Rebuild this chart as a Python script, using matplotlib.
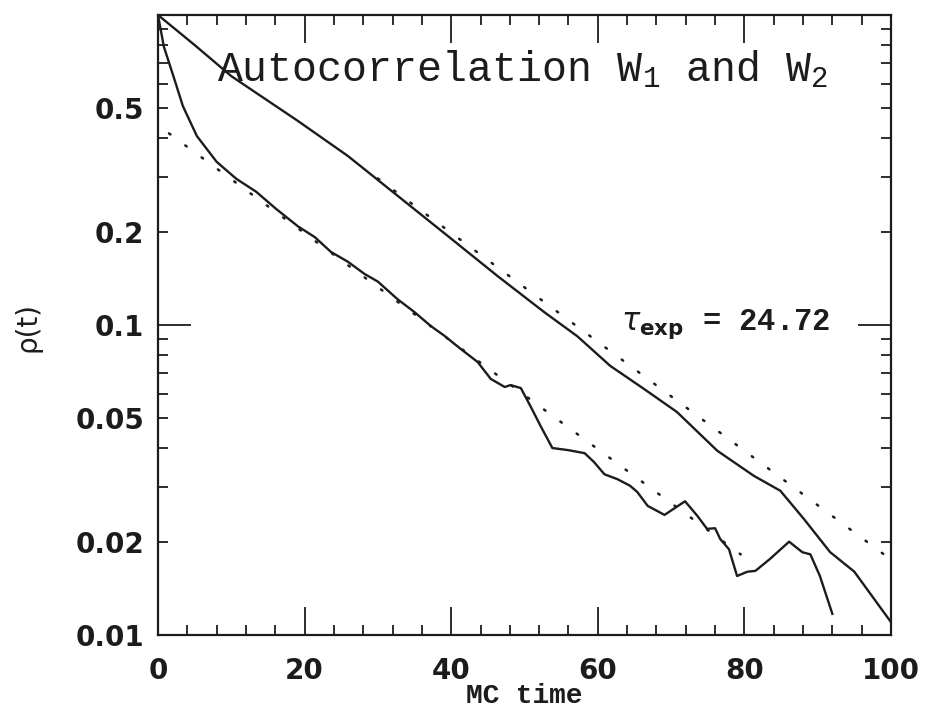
import matplotlib
matplotlib.use("Agg")
import matplotlib.pyplot as plt

# temps MC et autocorrelations
t_w1 = [0, 5, 10, 19.1, 25.9, 32.7, 39.5, 46.3, 52.7, 57.2, 61.7, 66.3, 70.8,
        76.3, 81.3, 84.9, 88.1, 91.7, 95.0, 100]
rho_w1 = [1.0, 0.80, 0.635, 0.455, 0.351, 0.261, 0.194, 0.144, 0.110, 0.092,
          0.0738, 0.0622, 0.0524, 0.0393, 0.0326, 0.0292, 0.0237, 0.0185,
          0.0160, 0.0110]

t_w2 = [0, 0.8, 2.1, 3.4, 5.3, 8.0, 10.7, 13.4, 16.1, 19.1, 21.4, 23.6, 25.9,
        28.2, 30.0, 32.7, 35.0, 37.2, 39.1, 41.3, 43.6, 45.4, 47.3, 48.1, 49.5,
        50.8, 52.2, 53.8, 55.9, 58.2, 59.5, 60.9, 62.7, 64.4, 65.4, 66.8, 69.1,
        71.9, 73.6, 74.9, 76.0, 76.7, 77.9, 79.0, 80.4, 81.5, 83.5, 86.1, 87.9,
        89.0, 90.3, 92.0]
rho_w2 = [1.0, 0.79, 0.635, 0.508, 0.407, 0.336, 0.296, 0.269, 0.237, 0.208,
          0.192, 0.172, 0.160, 0.146, 0.138, 0.121, 0.110, 0.0993, 0.0922,
          0.0837, 0.0760, 0.067, 0.0631, 0.064, 0.0626, 0.0548, 0.0472, 0.0401,
          0.0395, 0.0386, 0.0361, 0.0330, 0.0318, 0.0303, 0.0289, 0.0261,
          0.0244, 0.0270, 0.0242, 0.0220, 0.0221, 0.0204, 0.0189, 0.0155,
          0.0160, 0.0161, 0.0176, 0.0200, 0.0185, 0.0182, 0.0155, 0.0117]

# ajustements exponentiels (tau_exp = 24.72), extremites lues
t_fit1 = [30, 100]
rho_fit1 = [0.297, 0.0175]
t_fit2 = [1.5, 79.5]
rho_fit2 = [0.415, 0.0182]

x_major = [0, 20, 40, 60, 80, 100]
x_minor = [4, 8, 12, 16, 24, 28, 32, 36, 44, 48, 52, 56, 64, 68, 72, 76,
           84, 88, 92, 96]
y_major = [0.01, 0.1, 1.0]
y_major_labels = ["0.01", "0.1", ""]
y_minor = [0.02, 0.03, 0.04, 0.05, 0.06, 0.07, 0.08, 0.09,
           0.2, 0.3, 0.4, 0.5, 0.6, 0.7, 0.8, 0.9]
y_minor_labels = ["0.02", "", "", "0.05", "", "", "", "",
                  "0.2", "", "", "0.5", "", "", "", ""]

plt.rcParams["mathtext.fontset"] = "custom"
plt.rcParams["mathtext.rm"] = "Liberation Mono"
plt.rcParams["mathtext.it"] = "DejaVu Sans:italic"
plt.rcParams["mathtext.bf"] = "DejaVu Sans:bold"

ink = "#1c1c1c"

fig = plt.figure(figsize=(9.25, 7.15), dpi=100)
ax = fig.add_axes([158 / 925, 80 / 715, 733 / 925, 620 / 715])

ax.plot(t_w1, rho_w1, color=ink, lw=1.7)
ax.plot(t_w2, rho_w2, color=ink, lw=1.7)
ax.plot(t_fit1, rho_fit1, color=ink, lw=1.8, ls=(0, (0.7, 7.4)),
        dash_capstyle="round")
ax.plot(t_fit2, rho_fit2, color=ink, lw=1.8, ls=(0, (0.7, 7.4)),
        dash_capstyle="round")

ax.set_yscale("log")
ax.set_xlim(0, 100)
ax.set_ylim(0.01, 1.0)

ax.set_xticks(x_major)
ax.set_xticks(x_minor, minor=True)
ax.set_yticks(y_major, labels=y_major_labels)
ax.set_yticks(y_minor, labels=y_minor_labels, minor=True)

ax.tick_params(which="both", direction="in", top=True, right=True,
               colors=ink, width=1.3, labelsize=20)
ax.tick_params(axis="x", which="major", length=20, pad=16)
ax.tick_params(axis="x", which="minor", length=7)
ax.tick_params(axis="y", which="major", length=24, pad=10)
ax.tick_params(axis="y", which="minor", length=7, pad=10)
for lab in ax.get_xticklabels() + ax.get_yticklabels() + ax.get_yticklabels(minor=True):
    lab.set_fontweight("bold")

for sp in ax.spines.values():
    sp.set_linewidth(1.6)
    sp.set_color(ink)

ax.set_xlabel("MC time", family="Liberation Mono", fontweight="bold",
              fontsize=20, color=ink, va="top")
ax.xaxis.set_label_coords(0.5, -0.078)
ax.set_ylabel("ρ(t)", fontsize=20, color=ink)
ax.yaxis.set_label_coords(-0.159, 0.497)

ax.text(0.08, 0.893, "Autocorrelation W$_1$ and W$_2$", transform=ax.transAxes,
        family="Liberation Mono", fontsize=30, color=ink, va="baseline")
ax.text(0.632, 0.492, r"$\tau_{\mathbf{exp}}$ = 24.72", transform=ax.transAxes,
        family="Liberation Mono", fontweight="bold", fontsize=22, color=ink,
        va="baseline")

fig.savefig("out.png", dpi=100)
